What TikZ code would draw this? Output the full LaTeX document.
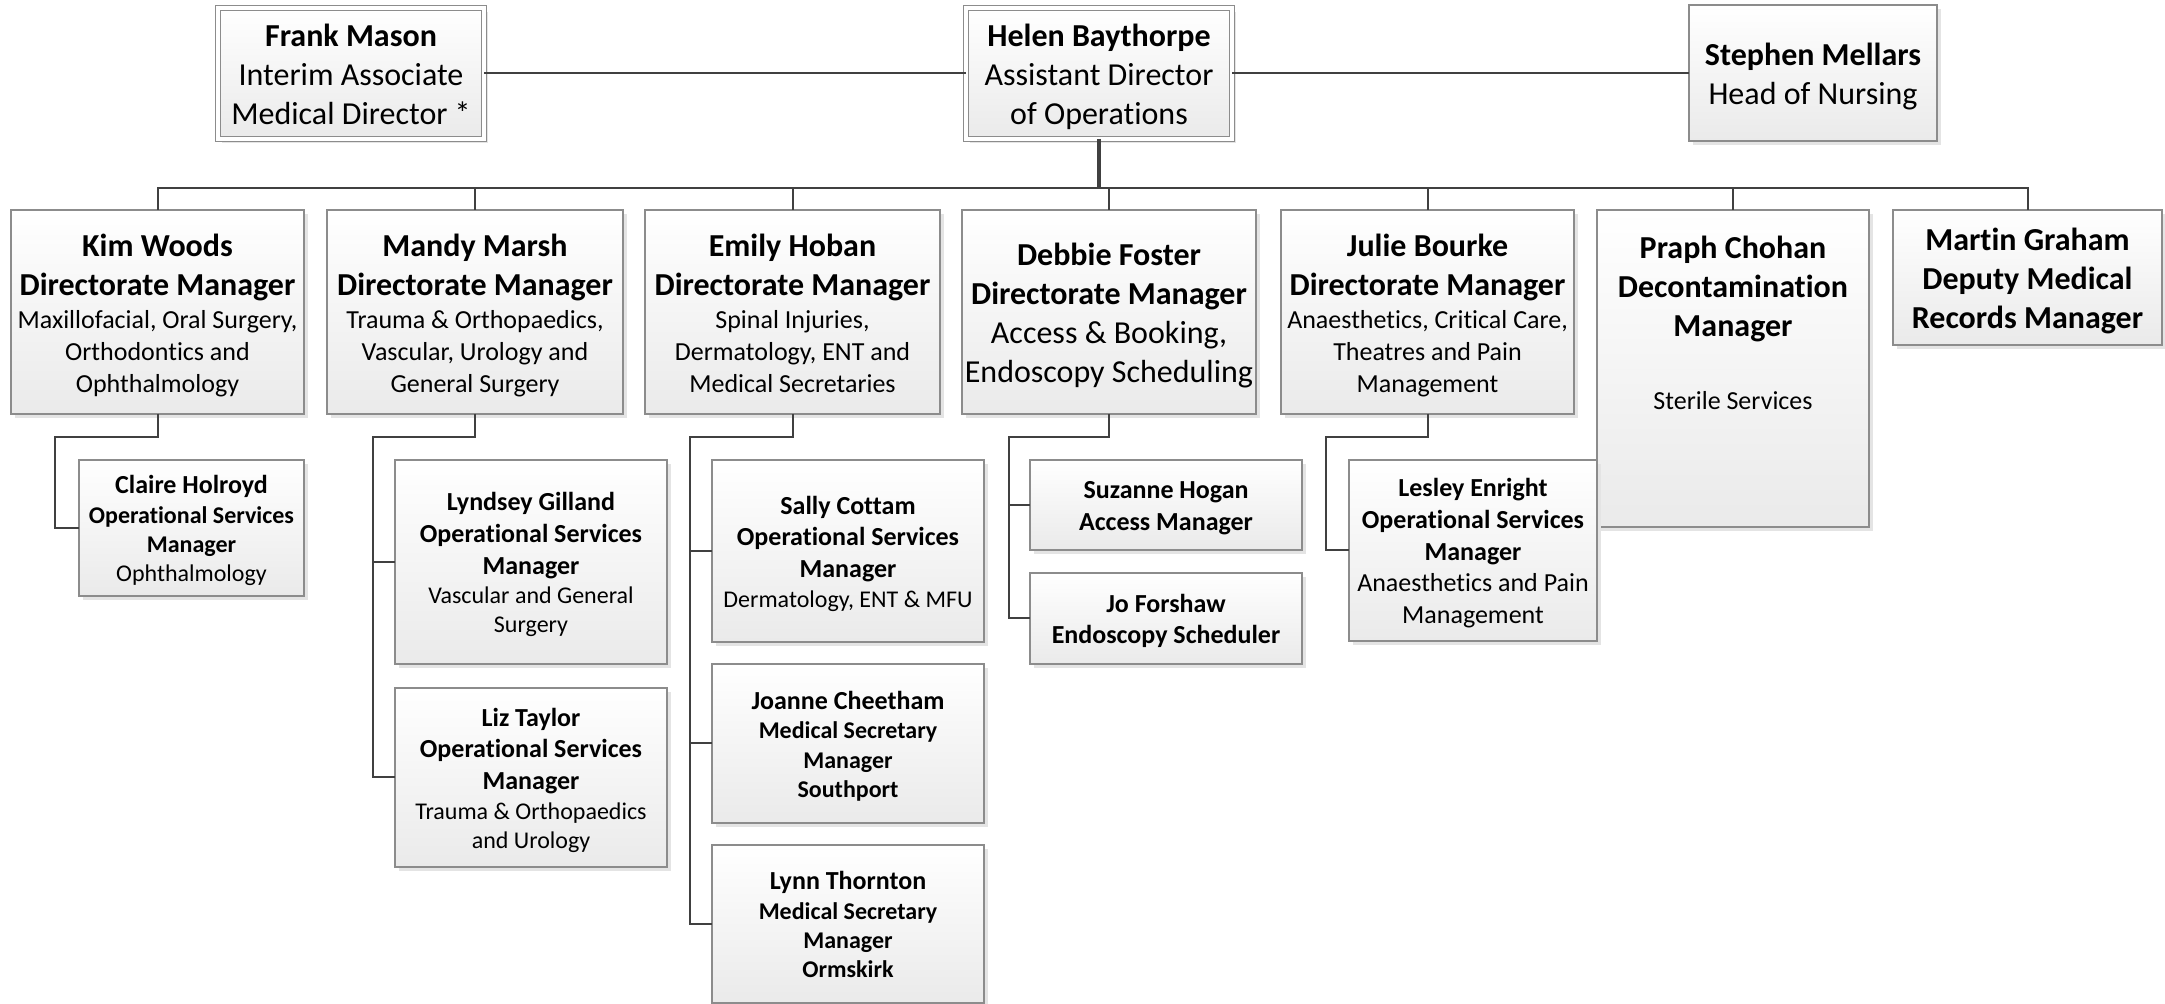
\documentclass[tikz,border=0pt]{standalone}
\usepackage{fontspec}
\setmainfont{Carlito}[Ligatures=NoCommon]
\usetikzlibrary{shadows}

\definecolor{linkGray}{HTML}{404040}
\definecolor{edgeGray}{HTML}{8C8C8C}
\definecolor{boxGray}{HTML}{EAEAEA}
\definecolor{shadowGray}{HTML}{E4E4E4}

\begin{document}
\begin{tikzpicture}[
    x=0.5pt, y=-0.5pt,
    box/.style={
        draw=edgeGray, line width=1pt,
        top color=white, bottom color=boxGray,
        drop shadow={shadow xshift=2pt, shadow yshift=-2pt, fill=shadowGray, opacity=1},
        inner sep=0pt, outer sep=0pt, align=center,
        font={\baselineskip=0pt\lineskip=0pt\lineskiplimit=0pt},
    },
    headbox/.style={box, line width=.7pt, double=white, double distance=1.6pt},
    link/.style={draw=linkGray, line width=1pt},
]

    \useasboundingbox (0,0) rectangle (2165,1004);

    \def\lineStrut{\rule[-.2\baselineskip]{0pt}{\baselineskip}}
    \def\nameL#1{{\fontsize{16}{19.5}\selectfont\bfseries\lineStrut #1}}
    \def\textL#1{{\fontsize{16}{19.5}\selectfont\lineStrut #1}}
    \def\nameM#1{{\fontsize{13}{15.85}\selectfont\bfseries\lineStrut #1}}
    \def\textM#1{{\fontsize{13}{15.85}\selectfont\lineStrut #1}}
    \def\nameS#1{{\fontsize{12}{14.6}\selectfont\bfseries\lineStrut #1}}
    \def\textS#1{{\fontsize{12}{14.6}\selectfont\lineStrut #1}}

    % top row
    \node[headbox, minimum width=133pt, minimum height=65.5pt] (frankMason) at (351,73.5)
        {\nameL{Frank Mason}\\\textL{Interim Associate}\\\textL{Medical Director *}};
    \node[headbox, minimum width=133pt, minimum height=65.5pt] (helenBaythorpe) at (1099,73.5)
        {\nameL{Helen Baythorpe}\\\textL{Assistant Director}\\\textL{of Operations}};
    \node[box, minimum width=124pt, minimum height=68pt] (stephenMellars) at (1813,73)
        {\nameL{Stephen Mellars}\\\textL{Head of Nursing}};

    % directorates
    \node[box, minimum width=146.5pt, minimum height=102pt] (kimWoods) at (157.5,312)
        {\nameL{Kim Woods}\\\nameL{Directorate Manager}\\\textM{Maxillofacial, Oral Surgery,}\\\textM{Orthodontics and}\\\textM{Ophthalmology}};
    \node[box, minimum width=148pt, minimum height=102pt] (mandyMarsh) at (475,312)
        {\nameL{Mandy Marsh}\\\nameL{Directorate Manager}\\\textM{Trauma \& Orthopaedics,}\\\textM{Vascular, Urology and}\\\textM{General Surgery}};
    \node[box, minimum width=147.5pt, minimum height=102pt] (emilyHoban) at (792.5,312)
        {\nameL{Emily Hoban}\\\nameL{Directorate Manager}\\\textM{Spinal Injuries,}\\\textM{Dermatology, ENT and}\\\textM{Medical Secretaries}};
    \node[box, minimum width=147pt, minimum height=102pt] (debbieFoster) at (1109,312)
        {\nameL{Debbie Foster}\\\nameL{Directorate Manager}\\\textL{Access \& Booking,}\\\textL{Endoscopy Scheduling}};
    \node[box, minimum width=146.5pt, minimum height=102pt] (julieBourke) at (1427.5,312)
        {\nameL{Julie Bourke}\\\nameL{Directorate Manager}\\\textM{Anaesthetics, Critical Care,}\\\textM{Theatres and Pain}\\\textM{Management}};
    \node[box, minimum width=136pt, minimum height=158.5pt] (praphChohan) at (1733,368.5)
        {\nameL{Praph Chohan}\\\nameL{Decontamination}\\\nameL{Manager}\\\nameL{}\\\textM{Sterile Services}\\\rule{0pt}{47pt}};
    \node[box, minimum width=134.5pt, minimum height=67.5pt] (martinGraham) at (2027.5,277.5)
        {\nameL{Martin Graham}\\\nameL{Deputy Medical}\\\nameL{Records Manager}};

    % teams
    \node[box, minimum width=112.5pt, minimum height=68pt] (claireHolroyd) at (191.5,528)
        {\nameM{Claire Holroyd}\\\nameS{Operational Services}\\\nameS{Manager}\\\textS{Ophthalmology}};
    \node[box, minimum width=136pt, minimum height=102pt] (lyndseyGilland) at (531,562)
        {\nameM{Lyndsey Gilland}\\\nameM{Operational Services}\\\nameM{Manager}\\\textS{Vascular and General}\\\textS{Surgery}};
    \node[box, minimum width=136pt, minimum height=89.5pt] (lizTaylor) at (531,777.5)
        {\nameM{Liz Taylor}\\\nameM{Operational Services}\\\nameM{Manager}\\\textS{Trauma \& Orthopaedics}\\\textS{and Urology}};
    \node[box, minimum width=136pt, minimum height=91pt] (sallyCottam) at (848,551)
        {\nameM{Sally Cottam}\\\nameM{Operational Services}\\\nameM{Manager}\\\textS{Dermatology, ENT \& MFU}};
    \node[box, minimum width=136pt, minimum height=79.5pt] (joanneCheetham) at (848,743.5)
        {\nameM{Joanne Cheetham}\\\nameS{Medical Secretary}\\\nameS{Manager}\\\nameS{Southport}};
    \node[box, minimum width=136pt, minimum height=79pt] (lynnThornton) at (848,924)
        {\nameM{Lynn Thornton}\\\nameS{Medical Secretary}\\\nameS{Manager}\\\nameS{Ormskirk}};
    \node[box, minimum width=136pt, minimum height=45pt] (suzanneHogan) at (1166,505)
        {\nameM{Suzanne Hogan}\\\nameM{Access Manager}};
    \node[box, minimum width=136pt, minimum height=45.5pt] (joForshaw) at (1166,618.5)
        {\nameM{Jo Forshaw}\\\nameM{Endoscopy Scheduler}};
    \node[box, minimum width=124pt, minimum height=90.5pt] (lesleyEnright) at (1473,550.5)
        {\nameM{Lesley Enright}\\\nameM{Operational Services}\\\nameM{Manager}\\\textM{Anaesthetics and Pain}\\\textM{Management}};

    % links
    \coordinate (bus) at (0,188);

    \draw[link] (frankMason.east) -- (helenBaythorpe.west);
    \draw[link] (helenBaythorpe.east) -- (helenBaythorpe.east -| stephenMellars.west);
    \draw[link, line width=1.75pt] (helenBaythorpe.south) -- (helenBaythorpe.south |- bus);

    \draw[link] (kimWoods.north) -- (kimWoods.north |- bus) -- (martinGraham.north |- bus) -- (martinGraham.north);
    \foreach \n in {mandyMarsh, emilyHoban, debbieFoster, julieBourke, praphChohan}
        \draw[link] (\n.north |- bus) -- (\n.north);

    \draw[link] (kimWoods.south) -- ++(0,23) -| ([xshift=-12pt]claireHolroyd.west) -- (claireHolroyd.west);

    \draw[link] (mandyMarsh.south) -- ++(0,23) -| ([xshift=-11pt]lizTaylor.west) -- (lizTaylor.west);
    \draw[link] ([xshift=-11pt]lyndseyGilland.west) -- (lyndseyGilland.west);

    \draw[link] (emilyHoban.south) -- ++(0,23) -| ([xshift=-11pt]lynnThornton.west) -- (lynnThornton.west);
    \draw[link] ([xshift=-11pt]sallyCottam.west) -- (sallyCottam.west);
    \draw[link] ([xshift=-11pt]joanneCheetham.west) -- (joanneCheetham.west);

    \draw[link] (debbieFoster.south) -- ++(0,23) -| ([xshift=-10.5pt]joForshaw.west) -- (joForshaw.west);
    \draw[link] ([xshift=-10.5pt]suzanneHogan.west) -- (suzanneHogan.west);

    \draw[link] (julieBourke.south) -- ++(0,23) -| ([xshift=-11.5pt]lesleyEnright.west) -- (lesleyEnright.west);

\end{tikzpicture}
\end{document}
